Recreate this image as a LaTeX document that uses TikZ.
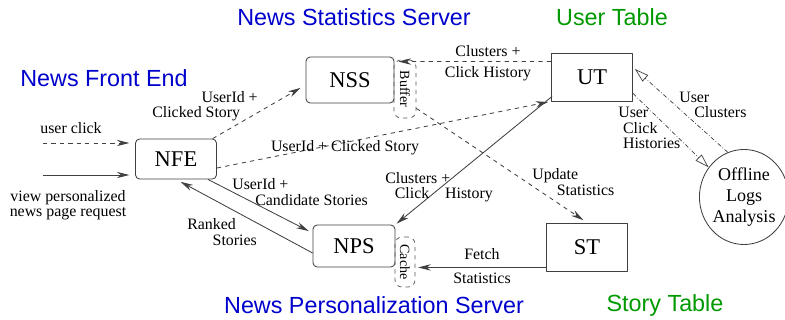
\documentclass[tikz,border=0pt]{standalone}
\usepackage{fontspec}
\usepackage{graphicx}
\setmainfont{Liberation Serif}
\newfontfamily\headfont{Liberation Sans}
\usetikzlibrary{arrows.meta,shapes.geometric,calc}
\definecolor{headblue}{RGB}{0,0,204}
\definecolor{headgreen}{RGB}{0,153,0}

\begin{document}
\begin{tikzpicture}[x=0.025cm,y=-0.025cm,>={Stealth[length=9pt,width=4.5pt]},line join=round,
	box/.style={draw=black!75,line width=0.6pt,inner sep=0pt,font=\fontsize{16}{18}\selectfont},
	srv/.style={box,rounded corners=3pt},
	hold/.style={draw=black!65,dashed,line width=0.5pt,rounded corners=5pt,inner sep=0pt,font=\fontsize{10}{10}\selectfont},
	lbl/.style={inner sep=0pt,align=left,font=\fontsize{11.3}{11}\selectfont},
	head/.style={inner sep=0pt,font=\headfont\fontsize{16.6}{18}\selectfont},
	link/.style={draw=black!75,line width=0.6pt},
	feed/.style={link,line width=0.5pt,dash pattern=on 3pt off 1.5pt on 0.5pt off 1.5pt,-{Triangle[open,length=10pt,width=6pt]}}]
	\useasboundingbox (0,0) rectangle (785,320);
	% servers and tables
	\node[srv,minimum width=2.025cm,minimum height=1cm] (nfe) at (176,159) {NFE};
	\node[srv,minimum width=2.2cm,minimum height=1.15cm] (nss) at (350,80) {NSS};
	\node[hold,minimum width=0.55cm,minimum height=1.45cm] (buf) at (405,89) {\rotatebox{-90}{Buffer}};
	\node[box,minimum width=2.025cm,minimum height=1.2cm] (ut) at (592,77) {UT};
	\node[srv,minimum width=2.05cm,minimum height=1.05cm] (nps) at (354,246) {NPS};
	\node[hold,minimum width=0.5cm,minimum height=1.25cm] (cache) at (405,262) {\rotatebox{-90}{Cache}};
	\node[box,minimum width=2.025cm,minimum height=1.2cm] (st) at (587,247) {ST};
	\node[draw=black!75,line width=0.6pt,ellipse,minimum width=2.05cm,minimum height=2.375cm,inner sep=0pt,align=center,
		font=\fontsize{12.8}{15}\selectfont] (off) at (744,197) {Offline\\Logs\\Analysis};
	% headings
	\node[head,text=headblue] (nsshead) at (354,17) {News Statistics Server};
	\node[head,text=headgreen] (uthead) at (612,17) {User Table};
	\node[head,text=headblue] (nfehead) at (104,78) {News Front End};
	\node[head,text=headblue] (npshead) at (374,305) {News Personalization Server};
	\node[head,text=headgreen] (sthead) at (665,305) {Story Table};
	% requests into the front end
	\coordinate (click) at (43,143);
	\coordinate (view) at (43,175);
	\draw[link,dashed,->,shorten >=4pt] (click) -- (click -| nfe.west);
	\node[lbl] (clicklbl) at (71,128) {user click};
	\draw[link,->,shorten >=4pt] (view) -- (view -| nfe.west);
	\node[lbl,align=center] (viewlbl) at (68,205) {view personalized\\news page request};
	% front end
	\draw[link,dashed,->,shorten >=4pt] ([xshift=-3pt]nfe.north east) -- ($(nss.west)+(0,5)$);
	\node[lbl,anchor=west] (clk1) at (152,106) {\hspace*{3.1em}UserId +\\Clicked Story};
	\draw[link,dashed,->,shorten >=2pt] ([yshift=-6.4pt]nfe.east) -- (ut.south west);
	\node[lbl] (clk2) at (345,148) {UserId + Clicked Story};
	\draw[link,->,shorten >=3pt] ([xshift=-6.4pt]nfe.south east) -- ($(nps.west)+(0,-13)$);
	\node[lbl,anchor=west] (cand) at (232,192) {UserId +\\\hspace*{1.45em}Candidate Stories};
	\draw[link,->,shorten >=2pt] ($(nps.west)+(0,7)$) -- ($(nfe.south)+(2,1)$);
	\node[lbl,anchor=west] (rank) at (187,232) {Ranked\\\hspace*{1.6em}Stories};
	% user table
	\draw[link,dashed,->] ($(ut.north west)+(0,9)$) -- ($(nss.north east)+(4,5)$);
	\node[lbl,align=center] (hist1) at (488,63) {Clusters +\\[4pt]Click History};
	\draw[link,->,shorten >=1pt] ($(ut.south west)+(1,-5)$) -- (nps.north east);
	\node[lbl,anchor=west] (hist2) at (385,187) {Clusters +\\\hspace*{0.6em}Click\quad History};
	% story table
	\draw[link,dashed,->,shorten >=3pt] ($(buf.south east)+(0,-10)$) -- (st.north);
	\node[lbl,anchor=west] (upd) at (532,182) {Update\\\hspace*{1.55em}Statistics};
	\coordinate (fs) at ($(st.south west)+(0,-4)$);
	\draw[link,->,shorten >=2pt] (fs) -- (fs -| cache.east);
	\node[lbl,align=center] (fetch) at (482,266) {Fetch\\[6pt]Statistics};
	% offline analysis
	\draw[feed] ($(ut.south east)+(0,-8)$) -- (off.140);
	\node[lbl,anchor=west] (uch) at (618,128) {User\\\hspace*{0.3em}Click\\\hspace*{0.3em}Histories};
	\draw[feed] (off.110) -- ($(ut.east)+(2,-8)$);
	\node[lbl,anchor=west] (ucl) at (679,105) {User\\\hspace*{0.95em}Clusters};
\end{tikzpicture}
\end{document}
